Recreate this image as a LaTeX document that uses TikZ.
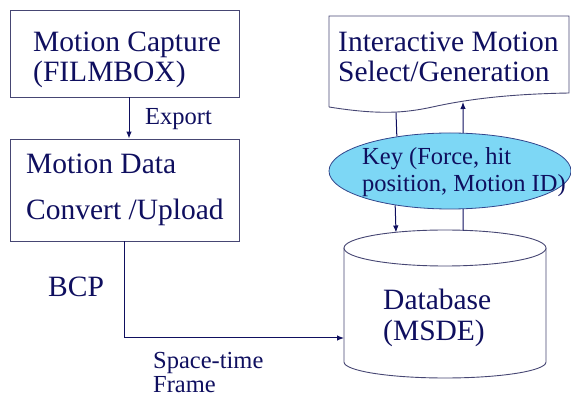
\documentclass[tikz,border=0pt]{standalone}
\usepackage{fontspec}
\setmainfont{Liberation Serif}
\usetikzlibrary{arrows.meta,shapes.geometric}
\definecolor{ink}{RGB}{15,15,95}
\definecolor{edge}{RGB}{70,70,115}
\definecolor{keyfill}{RGB}{125,215,245}
\definecolor{keyedge}{RGB}{50,70,140}
\tikzset{
  big/.style={inner sep=0pt,anchor=base west,text=ink,font=\fontsize{29.5}{32}\selectfont},
  small/.style={inner sep=0pt,anchor=base west,text=ink,font=\fontsize{24.5}{27}\selectfont},
  boxshape/.style={draw=edge,line width=0.9pt,inner sep=0pt},
  conn/.style={draw=ink,line width=1pt},
  arr/.style={conn,-{Latex[length=7pt,width=5.5pt]}}
}
\begin{document}
\begin{tikzpicture}[x=1pt,y=-1pt]
\useasboundingbox (0,0) rectangle (571,398);
% boxes
\node[boxshape,minimum width=229pt,minimum height=87pt] (box1) at (124.5,53.5) {};
\node[boxshape,minimum width=229pt,minimum height=102pt] (box2) at (124.5,190) {};
% document shape
\draw[edge,line width=0.9pt] (329,107) -- (329,16) -- (569,16) -- (569,93)
  .. controls (510,94) and (470,99) .. (437,106)
  .. controls (410,112) and (385,116) .. (329,107);
\coordinate (docA) at (396,112.5);
\coordinate (docB) at (463,102);
% key ellipse
\node[ellipse,draw=keyedge,fill=keyfill,line width=0.8pt,minimum width=242pt,minimum height=76pt,inner sep=0pt] (key) at (450,171) {};
% database cylinder
\draw[edge,line width=0.9pt,fill=white] (344,248) -- (344,362) arc[start angle=180,end angle=0,x radius=101,y radius=16] -- (546,248);
\draw[edge,line width=0.9pt,fill=white] (445,248) ellipse[x radius=101,y radius=18];
\coordinate (dbA) at (396,232.5);
\coordinate (dbB) at (463,230.5);
\coordinate (dbW) at (344,338);
% texts
\node[big] (t1) at (33,52) {Motion Capture};
\node[big] (t2) at (33,82) {(FILMBOX)};
\node[small] (t3) at (145,125) {Export};
\node[big] (t4) at (26,174) {Motion Data};
\node[big] (t5) at (26,220) {Convert /Upload};
\node[big] (t6) at (338,52) {Interactive Motion};
\node[big] (t7) at (338,82) {Select/Generation};
\node[small] (t8) at (362,165) {Key (Force, hit};
\node[small] (t9) at (362,192) {position, Motion ID)};
\node[big] (t10) at (48,297) {BCP};
\node[small] (t11) at (153,369) {Space-time};
\node[small] (t12) at (153,392) {Frame};
\node[big] (t13) at (383,310) {Database};
\node[big] (t14) at (383,341) {(MSDE)};
% connectors
\draw[arr] ([xshift=4.5pt]box1.south) -- ([xshift=4.5pt]box2.north);
\draw[arr] (box2.south) |- (dbW);
\draw[conn] (docA) -- (key.147.8);
\draw[arr] (key.212.2) -- (dbA);
\draw[conn] (dbB) -- (key.-71);
\draw[arr] (key.71) -- (docB);
\end{tikzpicture}
\end{document}
